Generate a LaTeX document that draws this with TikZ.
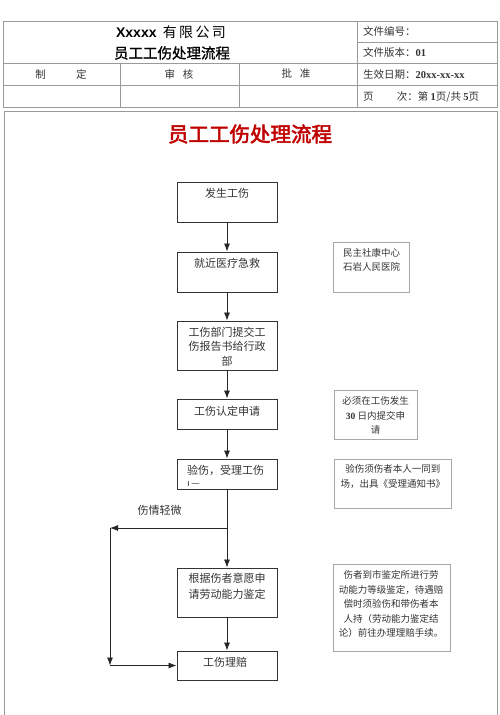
\documentclass[tikz,border=0pt]{standalone}
\usepackage{fontspec}
\setmainfont{Noto Sans CJK SC}
\newfontfamily\cjkbold[FakeBold=2.5]{Noto Sans CJK SC}
\newfontfamily\cjkmid[FakeBold=1.2]{Noto Sans CJK SC}
\newfontfamily\latserif{Liberation Serif}
\newfontfamily\latsans{Liberation Sans}
\usetikzlibrary{arrows.meta}
\definecolor{gridgray}{HTML}{9A9A9A}
\definecolor{txtgray}{HTML}{333333}
\definecolor{titlered}{HTML}{C00000}
\definecolor{lightbox}{HTML}{A8A8A8}
\tikzset{
  gridline/.style={draw=gridgray, line width=0.8pt},
  mainbox/.style={draw=txtgray, line width=0.9pt, rectangle, minimum width=100pt, inner sep=0pt},
  notebox/.style={draw=lightbox, line width=0.8pt, rectangle, inner sep=0pt},
  boxtext/.style={text=txtgray, font=\fontsize{11}{14.5}\selectfont, align=center, inner sep=0pt},
  notetext/.style={text=txtgray, font=\fontsize{9.5}{14.5}\selectfont, align=center, inner sep=0pt},
  headtext/.style={text=txtgray, font=\fontsize{10.5}{13}\selectfont, inner sep=0pt},
  arr/.style={draw=black!85, line width=0.8pt, -{Latex[length=8pt,width=6pt]}}
}
\begin{document}
\begin{tikzpicture}[x=1pt,y=-1pt]
\useasboundingbox (0,0) rectangle (500,715);
% ---------- header table ----------
\draw[gridline] (3,21) rectangle (497,107);
\draw[gridline] (3,63) -- (497,63);
\draw[gridline] (3,85) -- (497,85);
\draw[gridline] (357,42) -- (497,42);
\draw[gridline] (357,21) -- (357,107);
\draw[gridline] (120,63) -- (120,107);
\draw[gridline] (239,63) -- (239,107);
\node[text=black, font=\fontsize{14}{16}\selectfont, inner sep=0pt] (h1) at (171,32) {{\latsans\bfseries Xxxxx}\ \ 有\,限\,公\,司};
\node[text=black, font=\fontsize{14.5}{16}\selectfont\cjkmid, inner sep=0pt] (h2) at (172,53) {员工工伤处理流程};
\node[headtext] (c1) at (61,74) {制\hspace{2.9em}定};
\node[headtext] (c2) at (179,74) {审\hspace{0.75em}核};
\node[headtext] (c3) at (296,74) {批\hspace{0.75em}准};
\node[headtext, anchor=west] (r1) at (363,31) {文件编号：};
\node[headtext, anchor=west] (r2) at (363,52) {文件版本：{\latserif\bfseries 01}};
\node[headtext, anchor=west] (r3) at (363,75) {生效日期：{\latserif\bfseries 20xx-xx-xx}};
\node[headtext, anchor=west] (r4) at (363,97) {页\hspace{2.2em}次：第 {\latserif\bfseries 1}页/共 {\latserif\bfseries 5}页};
% ---------- body frame ----------
\draw[gridline] (4,715) -- (4,111) -- (497,111) -- (497,715);
\node[text=titlered, font=\fontsize{20.5}{22}\selectfont\cjkbold, inner sep=0pt] (title) at (250,134) {员工工伤处理流程};
% ---------- main boxes ----------
\node[mainbox, minimum height=40pt] (b1) at (227,202) {};
\node[mainbox, minimum height=40pt] (b2) at (227,272) {};
\node[mainbox, minimum height=49pt] (b3) at (227,345.5) {};
\node[mainbox, minimum height=30pt] (b4) at (227,414) {};
\node[mainbox, minimum height=30pt] (b5) at (227,474) {};
\node[mainbox, minimum height=49pt] (b6) at (227,592.5) {};
\node[mainbox, minimum height=29pt] (b7) at (227,665.5) {};
\node[boxtext] (t1) at (227,193) {发生工伤};
\node[boxtext] (t2) at (227,263) {就近医疗急救};
\node[boxtext] (t3) at (227,346.5) {工伤部门提交工\\伤报告书给行政\\部};
\node[boxtext] (t4) at (227,411) {工伤认定申请};
\node[boxtext, align=left, anchor=west] (t5a) at (187,470) {验伤，受理工伤};
\node[boxtext, anchor=west, font=\fontsize{9.5}{10}\selectfont] (t5b) at (187,484) {{\latsans ı}\,—};
\node[boxtext, font=\fontsize{11}{16}\selectfont] (t6) at (227,586) {根据伤者意愿申\\请劳动能力鉴定};
\node[boxtext] (t7) at (225,662) {工伤理赔};
% ---------- note boxes ----------
\node[notebox, minimum width=76pt, minimum height=50pt] (n1) at (371,267) {};
\node[notebox, minimum width=83pt, minimum height=49pt] (n2) at (375.5,414.5) {};
\node[notebox, minimum width=117pt, minimum height=49pt] (n3) at (392.5,483.5) {};
\node[notebox, minimum width=117pt, minimum height=87pt] (n4) at (391.5,607.5) {};
\node[notetext] (m1) at (371.5,260) {民主社康中心\\石岩人民医院};
\node[notetext] (m2) at (375.5,415.5) {必须在工伤发生\\{\latserif\bfseries 30} 日内提交申\\请};
\node[notetext] (m3) at (392.8,476.5) {验伤须伤者本人一同到\\场，出具《受理通知书》};
\node[notetext] (m4) at (391,604) {伤者到市鉴定所进行劳\\动能力等级鉴定，待遇赔\\偿时须验伤和带伤者本\\人持（劳动能力鉴定结\\论）前往办理理赔手续。};
% ---------- connectors ----------
\draw[arr] (b1) -- (b2);
\draw[arr] (b2) -- (b3);
\draw[arr] (b3) -- (b4);
\draw[arr] (b4) -- (b5);
\draw[arr] (b5) -- (b6);
\draw[arr] (b6) -- (b7);
\coordinate (split) at (227,528);
\coordinate (k1) at (110,528);
\coordinate (k2) at (110,665.5);
\draw[arr] (split) -- (k1);
\draw[arr] (k1) -- (k2);
\draw[arr] (k2) -- (b7.west);
\node[boxtext] (lbl) at (159.5,510) {伤情轻微};
\end{tikzpicture}
\end{document}
